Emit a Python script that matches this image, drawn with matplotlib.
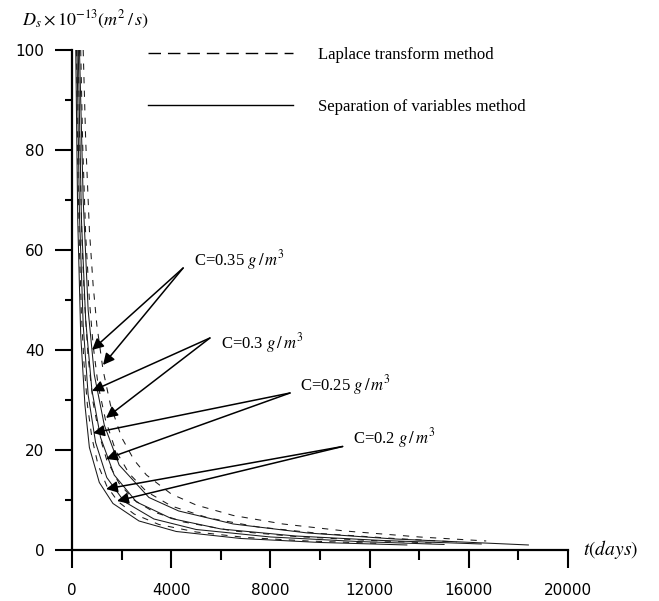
import matplotlib
matplotlib.use("Agg")
import matplotlib.pyplot as plt
from matplotlib.lines import Line2D
from matplotlib.ticker import MultipleLocator

plt.rcParams['mathtext.fontset'] = 'stix'

# Separation of variables method (solid), one curve per concentration C (g/m^3)
sep_t_020 = [150, 230, 350, 520, 700, 1100, 1650, 2700, 4200, 6800, 10000, 13500]
sep_D_020 = [100, 66, 43, 29, 20.5, 13.5, 9.3, 5.8, 3.7, 2.3, 1.5, 1.0]
sep_t_025 = [200, 300, 450, 650, 950, 1400, 2100, 3300, 5000, 8000, 11500, 15000]
sep_D_025 = [100, 67, 45, 31, 21.5, 14.5, 9.7, 6.2, 4.1, 2.6, 1.7, 1.1]
sep_t_030 = [250, 380, 550, 800, 1150, 1700, 2600, 4000, 6000, 9000, 12500, 16500]
sep_D_030 = [100, 66, 46, 32, 22.5, 15, 9.6, 6.3, 4.2, 2.8, 1.9, 1.2]
sep_t_035 = [300, 450, 650, 900, 1300, 1900, 3100, 4300, 6500, 9500, 13000, 18400]
sep_D_035 = [100, 70, 48, 35, 25, 17, 10.5, 7.8, 5.2, 3.4, 2.2, 1.0]

# Laplace transform method (dashed)
lap_t_020 = [180, 230, 300, 380, 480, 620, 800, 1050, 1400, 1850, 2500, 3500, 5000, 7000, 9500, 12500]
lap_D_020 = [100, 78, 60, 47, 37.5, 29, 22.5, 17, 12.8, 9.7, 7.2, 5.1, 3.6, 2.5, 1.8, 1.3]
lap_t_025 = [250, 310, 400, 500, 650, 850, 1100, 1400, 1900, 2500, 3300, 4500, 6500, 9000, 12000, 14500]
lap_D_025 = [100, 81, 62, 50, 38.5, 29.5, 23, 18, 13.3, 10, 7.6, 5.6, 3.8, 2.7, 1.9, 1.4]
lap_t_030 = [350, 430, 550, 700, 850, 1050, 1350, 1750, 2300, 3000, 4000, 5500, 7500, 10000, 13000, 15500]
lap_D_030 = [100, 81, 63, 50, 41, 33, 26, 20, 15.3, 11.7, 8.8, 6.4, 4.6, 3.3, 2.3, 1.6]
lap_t_035 = [450, 550, 700, 850, 1000, 1250, 1550, 2000, 2500, 3000, 4000, 5000, 6500, 8500, 11000, 14000, 16700]
lap_D_035 = [100, 82, 64, 53, 45, 36, 29, 22.5, 18, 15, 11.2, 9, 6.9, 5.2, 3.8, 2.6, 1.8]

# concentration labels: text position, arrow tail, arrow heads (solid curve, dashed curve)
labels = ['C=0.35 $g\\,/\\,m^3$', 'C=0.3 $g\\,/\\,m^3$', 'C=0.25 $g\\,/\\,m^3$', 'C=0.2 $g\\,/\\,m^3$']
label_xy = [(4920, 58), (6010, 41.4), (9190, 33), (11310, 22.4)]
tail_xy = [(4480, 56.4), (5560, 42.4), (8790, 31.4), (10910, 20.7)]
head_xy = [[(806, 40.0), (1250, 37.0)],
           [(806, 31.8), (1370, 26.4)],
           [(847, 23.4), (1370, 18.2)],
           [(1370, 12.2), (1815, 9.8)]]

fig = plt.figure(figsize=(6.59, 6.01), dpi=100)
ax = fig.add_axes([0.1093, 0.0849, 0.7527, 0.8319])

line_kw = dict(color='#1a1a1a', lw=0.75)
dash = (0, (6, 7))
for t, d in [(sep_t_020, sep_D_020), (sep_t_025, sep_D_025),
             (sep_t_030, sep_D_030), (sep_t_035, sep_D_035)]:
    ax.plot(t, d, ls='-', **line_kw)
for t, d in [(lap_t_020, lap_D_020), (lap_t_025, lap_D_025),
             (lap_t_030, lap_D_030), (lap_t_035, lap_D_035)]:
    ax.plot(t, d, ls=dash, **line_kw)

serif = 'Liberation Serif'
for lab, lxy, txy, heads in zip(labels, label_xy, tail_xy, head_xy):
    ax.text(lxy[0], lxy[1], lab, family=serif, fontsize=12, ha='left', va='center')
    for h in heads:
        ax.annotate('', xy=h, xytext=txy,
                    arrowprops=dict(arrowstyle='-|>', color='black', lw=1.1,
                                    mutation_scale=17, shrinkA=0, shrinkB=0))

handles = [Line2D([], [], color='black', lw=1.0, ls=(0, (9, 5))),
           Line2D([], [], color='black', lw=1.0, ls='-')]
ax.legend(handles, ['Laplace transform method', 'Separation of variables method'],
          loc='upper left', bbox_to_anchor=(0.153, 1.006), frameon=False,
          prop={'family': serif, 'size': 12}, handlelength=8.7,
          handletextpad=1.5, labelspacing=2.15, borderpad=0, borderaxespad=0)

ax.set_xlim(0, 20000)
ax.set_ylim(0, 100)
ax.xaxis.set_major_locator(MultipleLocator(4000))
ax.xaxis.set_minor_locator(MultipleLocator(2000))
ax.yaxis.set_major_locator(MultipleLocator(20))
ax.yaxis.set_minor_locator(MultipleLocator(10))

for s in ['top', 'right']:
    ax.spines[s].set_visible(False)
for s in ['left', 'bottom']:
    ax.spines[s].set_linewidth(1.6)

ax.tick_params(axis='x', which='major', direction='out', length=13, width=1.5, pad=11, labelsize=11)
ax.tick_params(axis='x', which='minor', direction='out', length=7, width=1.5)
ax.tick_params(axis='y', which='major', direction='out', length=12, width=1.5, pad=8, labelsize=11)
ax.tick_params(axis='y', which='minor', direction='out', length=5, width=1.5)

ax.text(-0.1, 1.06, r'$D_s\times10^{-13}(m^2\,/\,s)$', transform=ax.transAxes,
        fontsize=13, ha='left', va='center')
ax.text(1.03, 0.0, r'$t(days)$', transform=ax.transAxes,
        fontsize=14, ha='left', va='center')

fig.savefig('out.png', dpi=100)
